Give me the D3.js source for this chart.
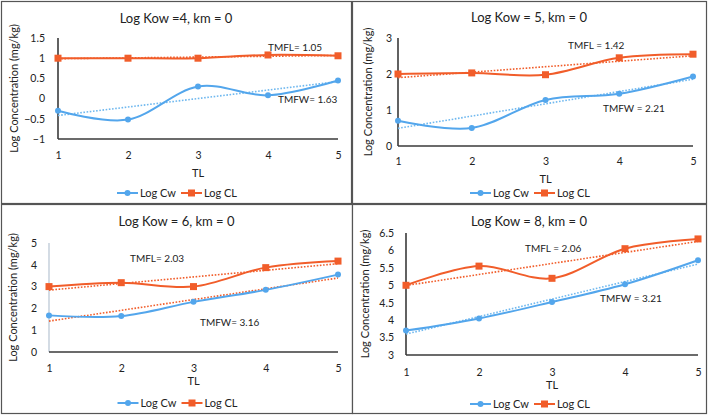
<!DOCTYPE html>
<html><head><meta charset="utf-8">
<script src="https://cdn.jsdelivr.net/npm/d3@7/dist/d3.min.js"></script>
<style>
html,body{margin:0;padding:0;background:#fff;}
svg{display:block;font-family:Lato,"Open Sans",sans-serif;}
</style></head>
<body><svg id="c" width="709" height="416"></svg>
<script>
// ---- data ----
const trophicLevels = [1, 2, 3, 4, 5];
const panelTitles = ["Log Kow =4, km = 0", "Log Kow = 5, km = 0", "Log Kow = 6, km = 0", "Log Kow = 8, km = 0"];
const logCw4 = [-0.30, -0.52, 0.30, 0.08, 0.45];
const logCL4 = [1.00, 1.00, 1.00, 1.08, 1.06];
const logCw5 = [0.70, 0.50, 1.28, 1.45, 1.93];
const logCL5 = [2.00, 2.03, 1.98, 2.45, 2.55];
const logCw6 = [1.68, 1.65, 2.30, 2.85, 3.55];
const logCL6 = [3.00, 3.18, 3.00, 3.87, 4.17];
const logCw8 = [3.70, 4.05, 4.52, 5.03, 5.72];
const logCL8 = [5.00, 5.55, 5.20, 6.05, 6.33];
const yTicks4 = [-1, -0.5, 0, 0.5, 1, 1.5];
const yTicks5 = [0, 1, 2, 3];
const yTicks6 = [0, 1, 2, 3, 4, 5];
const yTicks8 = [3, 3.5, 4, 4.5, 5, 5.5, 6, 6.5];
const tmflLabels = ["TMFL= 1.05", "TMFL = 1.42", "TMFL= 2.03", "TMFL = 2.06"];
const tmfwLabels = ["TMFW= 1.63", "TMFW = 2.21", "TMFW= 3.16", "TMFW = 3.21"];
const seriesNames = ["Log Cw", "Log CL"];
const xTitle = "TL";
const yTitle = "Log Concentration (mg/kg)";

// ---- styles / layout ----
const BLUE = "#53a6ec", ORANGE = "#f15d2a", BLUE_TREND = "#6fb8ef";
const cwSets = [logCw4, logCw5, logCw6, logCw8];
const clSets = [logCL4, logCL5, logCL6, logCL8];
const tickSets = [yTicks4, yTicks5, yTicks6, yTicks8];
const layouts = [
  {box:[1,1,351,203], x0:58, x1:338, yT:38, yB:139, tickGap:13, xtY:155, xtitleY:173, legY:193, titleY:18, ylabX:14, axisCol:"#3a3a3a", cwTrend:BLUE_TREND,
   tmfl:[268,47], tmfw:[278,99]},
  {box:[352,1,706,203], x0:398, x1:693, yT:38, yB:146, tickGap:6, xtY:161, xtitleY:179, legY:193, titleY:17, ylabX:368, axisCol:"#3a3a3a", cwTrend:BLUE_TREND,
   tmfl:[568,45], tmfw:[603,108]},
  {box:[1,204,352,413], x0:49, x1:338, yT:243, yB:352, tickGap:12, xtY:368, xtitleY:381, legY:403, titleY:221, ylabX:13, axisCol:"#c9d3de", cwTrend:ORANGE,
   tmfl:[130,258], tmfw:[200,322]},
  {box:[352,204,706,413], x0:406, x1:698, yT:233, yB:355, tickGap:12, xtY:372, xtitleY:385, legY:404, titleY:221, ylabX:365, axisCol:"#3a3a3a", cwTrend:BLUE_TREND,
   tmfl:[525,248], tmfw:[600,298]}
];

const svg = d3.select("#c");

function regression(xs, ys){
  const mx = d3.mean(xs), my = d3.mean(ys);
  const slope = d3.sum(xs, (x,i)=>(x-mx)*(ys[i]-my)) / d3.sum(xs, x=>(x-mx)*(x-mx));
  return x => my + slope*(x-mx);
}

layouts.forEach((L, p) => {
  const g = svg.append("g");
  const [bx0,by0,bx1,by1] = L.box;
  g.append("rect").attr("x",bx0+0.5).attr("y",by0+0.5).attr("width",bx1-bx0).attr("height",by1-by0)
    .attr("fill","#fff").attr("stroke","#555").attr("stroke-width",1.2);

  const ticks = tickSets[p];
  const x = d3.scaleLinear().domain([1,5]).range([L.x0, L.x1]);
  const y = d3.scaleLinear().domain([d3.min(ticks), d3.max(ticks)]).range([L.yB, L.yT]);

  // title
  g.append("text").attr("x",(bx0+bx1)/2).attr("y",L.titleY).attr("dy","0.35em")
    .attr("text-anchor","middle").attr("font-size",13).attr("fill","#222").text(panelTitles[p]);

  // y axis
  const ya = g.append("g").attr("transform",`translate(${L.x0},0)`)
    .call(d3.axisLeft(y).tickValues(ticks).tickSize(0).tickPadding(L.tickGap).tickFormat(d3.format("")));
  ya.select(".domain").remove();
  ya.selectAll("text").attr("font-size",10.5).attr("fill","#222").attr("font-family","Lato");
  g.append("line").attr("x1",L.x0).attr("x2",L.x0).attr("y1",L.yT).attr("y2",L.yB)
    .attr("stroke",L.axisCol).attr("stroke-width",1.6);

  // x axis
  const xa = g.append("g").attr("transform",`translate(0,${L.xtY})`)
    .call(d3.axisBottom(x).tickValues(trophicLevels).tickSize(0).tickPadding(0).tickFormat(d3.format("d")));
  xa.select(".domain").remove();
  xa.selectAll("text").attr("dy","0.35em").attr("font-size",10.5).attr("fill","#222").attr("font-family","Lato");
  g.append("line").attr("x1",L.x0).attr("x2",L.x1).attr("y1",L.yB).attr("y2",L.yB)
    .attr("stroke","#3a3a3a").attr("stroke-width",1.6);

  // axis titles
  g.append("text").attr("x",(L.x0+L.x1)/2).attr("y",L.xtitleY).attr("dy","0.35em").attr("text-anchor","middle")
    .attr("font-size",11).attr("fill","#222").text(xTitle);
  g.append("text").attr("transform",`translate(${L.ylabX},${(L.yT+L.yB)/2}) rotate(-90)`).attr("dy","0.35em")
    .attr("text-anchor","middle").attr("font-size",11).attr("fill","#222").text(yTitle);

  const cw = cwSets[p], cl = clSets[p];
  // trend lines
  [[cw, L.cwTrend],[cl, ORANGE]].forEach(([vals,col])=>{
    const f = regression(trophicLevels, vals);
    g.append("line").attr("x1",x(1)).attr("x2",x(5)).attr("y1",y(f(1))).attr("y2",y(f(5)))
      .attr("stroke",col).attr("stroke-width",1.6).attr("stroke-dasharray","1.6,1.6");
  });

  const line = d3.line().x((d,i)=>x(trophicLevels[i])).y(d=>y(d)).curve(d3.curveCardinal.tension(0));
  g.append("path").attr("d",line(cw)).attr("fill","none").attr("stroke",BLUE).attr("stroke-width",2);
  g.append("path").attr("d",line(cl)).attr("fill","none").attr("stroke",ORANGE).attr("stroke-width",2);
  g.selectAll(null).data(cw).enter().append("circle")
    .attr("cx",(d,i)=>x(trophicLevels[i])).attr("cy",d=>y(d)).attr("r",3).attr("fill",BLUE);
  g.selectAll(null).data(cl).enter().append("rect")
    .attr("x",(d,i)=>x(trophicLevels[i])-3.5).attr("y",d=>y(d)-3.5).attr("width",7).attr("height",7).attr("fill",ORANGE);

  // annotations
  g.append("text").attr("x",L.tmfl[0]).attr("y",L.tmfl[1]).attr("dy","0.35em").attr("font-size",10)
    .attr("fill","#222").text(tmflLabels[p]);
  g.append("text").attr("x",L.tmfw[0]).attr("y",L.tmfw[1]).attr("dy","0.35em").attr("font-size",10)
    .attr("fill","#222").text(tmfwLabels[p]);

  // legend
  const cx = (bx0+bx1)/2 + 1;
  const lg = g.append("g").attr("transform",`translate(${cx-60},${L.legY})`);
  [[0,BLUE,"circle"],[64,ORANGE,"rect"]].forEach(([dx,col,shape],k)=>{
    lg.append("line").attr("x1",dx).attr("x2",dx+21).attr("y1",0).attr("y2",0).attr("stroke",col).attr("stroke-width",2);
    if(shape==="circle") lg.append("circle").attr("cx",dx+10.5).attr("cy",0).attr("r",3).attr("fill",col);
    else lg.append("rect").attr("x",dx+7).attr("y",-3.5).attr("width",7).attr("height",7).attr("fill",col);
    lg.append("text").attr("x",dx+23).attr("y",0).attr("dy","0.35em").attr("font-size",11).attr("fill","#222").text(seriesNames[k]);
  });
});
</script></body></html>
